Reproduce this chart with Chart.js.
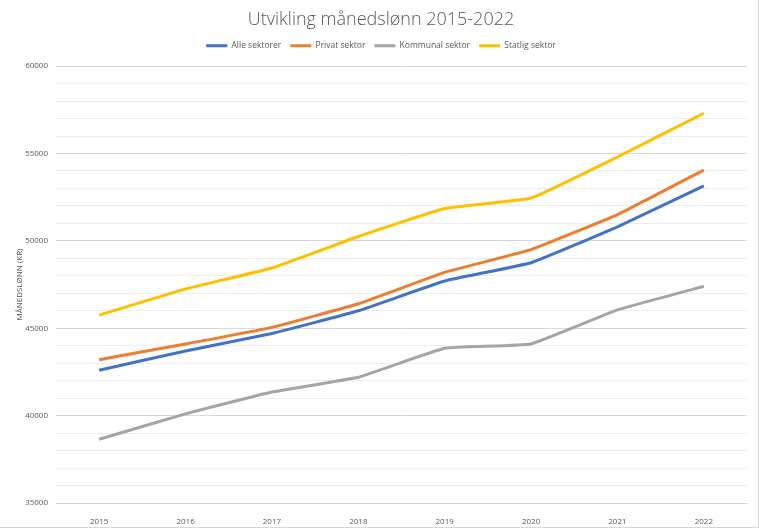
<!DOCTYPE html>
<html>
<head>
<meta charset="utf-8">
<script src="https://cdn.jsdelivr.net/npm/chart.js@4/dist/chart.umd.min.js"></script>
<style>
  html, body { margin: 0; padding: 0; background: #fff; }
  #wrap { position: relative; width: 758px; height: 527px; border-right: 1px solid #d9d9d9; border-bottom: 1px solid #d9d9d9; }
</style>
</head>
<body>
<div id="wrap"><canvas id="ch" width="758" height="527"></canvas></div>
<script>
// data
const years    = ['2015','2016','2017','2018','2019','2020','2021','2022'];
const alle     = [42600, 43700, 44700, 46000, 47700, 48750, 50800, 53150];
const privat   = [43200, 44100, 45050, 46400, 48200, 49500, 51500, 54050];
const kommunal = [38650, 40100, 41350, 42200, 43850, 44100, 46050, 47400];
const statlig  = [45750, 47250, 48450, 50250, 51850, 52450, 54800, 57300];

const FONT = "'Open Sans', 'Liberation Sans', sans-serif";

function ds(label, data, color) {
  return {
    label, data,
    borderColor: color,
    backgroundColor: color,
    borderWidth: 3,
    pointRadius: 0,
    pointStyle: 'line',
    tension: 0.1,
    fill: false,
  };
}

// a bit more room under the legend
const legendGap = {
  id: 'legendGap',
  beforeInit(chart) {
    const fit = chart.legend.fit;
    chart.legend.fit = function () { fit.call(this); this.height += 6; };
  }
};

new Chart(document.getElementById('ch'), {
  type: 'line',
  data: {
    labels: years,
    datasets: [
      ds('Alle sektorer',   alle,     '#4472C4'),
      ds('Privat sektor',   privat,   '#ED7D31'),
      ds('Kommunal sektor', kommunal, '#A5A5A5'),
      ds('Statlig sektor',  statlig,  '#FFC000'),
    ]
  },
  plugins: [legendGap],
  options: {
    responsive: false,
    animation: false,
    layout: { padding: { left: 15, right: 11, top: 0, bottom: 2 } },
    plugins: {
      title: {
        display: true,
        text: 'Utvikling månedslønn 2015-2022',
        color: '#595959',
        font: { family: FONT, size: 18, weight: '300' },
        padding: { top: 9, bottom: 2 },
      },
      legend: {
        labels: {
          usePointStyle: true,
          pointStyleWidth: 21,
          boxHeight: 8,
          color: '#595959',
          font: { family: FONT, size: 8.5 },
          padding: 9,
        }
      },
      tooltip: { enabled: false }
    },
    scales: {
      x: {
        offset: true,
        border: { display: true, color: '#d9d9d9' },
        grid: { display: false },
        ticks: { color: '#595959', font: { family: FONT, size: 8 }, padding: 6 },
        afterFit: s => { s.height = 22; }
      },
      y: {
        min: 35000, max: 60000,
        border: { display: false },
        grid: {
          color: c => c.tick.value % 5000 === 0 ? '#d9d9d9' : '#ededed',
          drawTicks: false,
        },
        ticks: {
          stepSize: 1000,
          autoSkip: false,
          color: '#595959',
          font: { family: FONT, size: 8 },
          padding: 8,
          callback: v => v % 5000 === 0 ? v : ''
        },
        title: {
          display: true,
          text: 'MÅNEDSLØNN (KR)',
          color: '#595959',
          font: { family: FONT, size: 8 },
          padding: { top: 0, bottom: 2 }
        },
        afterFit: s => { s.width = 41; }
      }
    }
  }
});
</script>
</body>
</html>
